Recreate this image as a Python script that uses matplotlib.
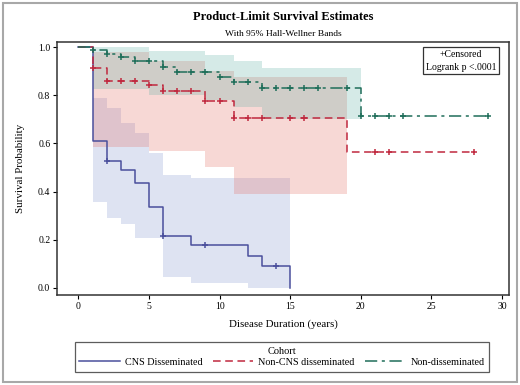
import matplotlib
matplotlib.use("Agg")
import matplotlib.pyplot as plt
from matplotlib.lines import Line2D
from matplotlib.patches import Rectangle
import numpy as np

plt.rcParams["font.family"] = ["Liberation Serif", "DejaVu Serif"]

# Kaplan-Meier step curves (time of step, survival after step)
cns_t = [0, 1, 2, 3, 4, 5, 6, 8, 12, 13, 15]
cns_s = [1.0, 0.61, 0.525, 0.49, 0.435, 0.335, 0.215, 0.178, 0.133, 0.089, 0.0]
cns_cens = [2, 6, 9, 14]

noncns_t = [0, 1, 2, 5, 6, 9, 11, 19]
noncns_s = [1.0, 0.913, 0.86, 0.842, 0.817, 0.775, 0.705, 0.563]
noncns_cens = [1, 2, 3, 4, 5, 6, 7, 8, 9, 10, 11, 12, 13, 15, 16, 21, 22, 28]

nondis_t = [0, 1, 2, 3, 4, 6, 7, 10, 11, 13, 20]
nondis_s = [1.0, 0.988, 0.971, 0.957, 0.944, 0.918, 0.898, 0.877, 0.856, 0.831, 0.714]
nondis_cens = [1, 2, 3, 4, 5, 6, 7, 8, 9, 10, 11, 12, 13, 14, 15, 16, 17, 19,
               20, 21, 22, 23, 29]

# Hall-Wellner bands (step start times, upper, lower)
cns_band_t = [1, 2, 3, 4, 5, 6, 8, 12, 15]
cns_band_hi = [0.79, 0.745, 0.685, 0.645, 0.56, 0.47, 0.455, 0.455, 0.455]
cns_band_lo = [0.357, 0.29, 0.265, 0.209, 0.209, 0.046, 0.022, 0.0, 0.0]

noncns_band_t = [1, 5, 9, 11, 19]
noncns_band_hi = [0.98, 0.94, 0.90, 0.877, 0.877]
noncns_band_lo = [0.585, 0.57, 0.50, 0.39, 0.39]

nondis_band_t = [1, 5, 9, 11, 13, 20]
nondis_band_hi = [1.0, 0.985, 0.965, 0.94, 0.913, 0.913]
nondis_band_lo = [0.825, 0.80, 0.78, 0.75, 0.70, 0.70]

labels = ["CNS Disseminated", "Non-CNS disseminated", "Non-disseminated"]
colors = ["#4a4f9c", "#c0283e", "#1f6e5a"]
band_colors = ["#7f93cf", "#e3675b", "#5bafa3"]
styles = ["-", (0, (5, 3)), (0, (8, 3, 2, 3))]


def step_value(times, surv, t):
    idx = np.searchsorted(times, t, side="right") - 1
    return surv[idx]


fig = plt.figure(figsize=(5.2, 3.85), dpi=100)
ax = fig.add_axes([0.110, 0.234, 0.869, 0.657])

bands = [
    (cns_band_t, cns_band_hi, cns_band_lo),
    (noncns_band_t, noncns_band_hi, noncns_band_lo),
    (nondis_band_t, nondis_band_hi, nondis_band_lo),
]
for (bt, hi, lo), c in zip(bands, band_colors):
    ax.fill_between(bt, lo, hi, step="post", color=c, alpha=0.25, lw=0, zorder=1)

curves = [
    (cns_t, cns_s, cns_cens),
    (noncns_t, noncns_s, noncns_cens),
    (nondis_t, nondis_s, nondis_cens),
]
for (t, s, cens), c, ls in zip(curves, colors, styles):
    t_end = max(t[-1], max(cens))
    tt = list(t) + [t_end]
    ss = list(s) + [s[-1]]
    ax.step(tt, ss, where="post", color=c, lw=1.1, linestyle=ls, zorder=3)
    cy = [step_value(t, s, x) for x in cens]
    ax.plot(cens, cy, "+", color=c, ms=5, mew=1.1, zorder=4)

ax.set_xlim(-1.5, 30.5)
ax.set_ylim(-0.029, 1.021)
ax.set_xticks(range(0, 31, 5))
ax.set_yticks(np.arange(0, 1.01, 0.2))
ax.set_yticklabels([f"{v:.1f}" for v in np.arange(0, 1.01, 0.2)])
ax.tick_params(labelsize=7, length=3, width=0.8, pad=2)
for sp in ax.spines.values():
    sp.set_linewidth(1.1)
    sp.set_color("#333333")
ax.set_xlabel("Disease Duration (years)", fontsize=7.8, labelpad=6)
ax.set_ylabel("Survival Probability", fontsize=7.8, labelpad=9)

ax.text(0.972, 0.968, "+Censored\nLogrank p <.0001", transform=ax.transAxes,
        ha="right", va="top", fontsize=7, linespacing=1.5, multialignment="center",
        bbox=dict(boxstyle="square,pad=0.3", fc="white", ec="#333333", lw=0.9),
        zorder=6)

fig.text(0.545, 0.955, "Product-Limit Survival Estimates", ha="center", va="center",
         fontsize=9, fontweight="bold")
fig.text(0.545, 0.912, "With 95% Hall-Wellner Bands", ha="center", va="center",
         fontsize=6.8)

handles = [Line2D([0], [0], color=c, lw=1.1, linestyle=ls)
           for c, ls in zip(colors, styles)]
leg = fig.legend(handles, labels, title="Cohort", ncol=3, loc="center",
                 bbox_to_anchor=(0.542, 0.073), fontsize=7.3, title_fontsize=7.5,
                 frameon=True, fancybox=False, edgecolor="#333333",
                 handlelength=4.0, columnspacing=1.0, handletextpad=0.5,
                 borderpad=0.45, labelspacing=0.2)
leg.get_frame().set_linewidth(0.9)

fig.patches.append(Rectangle((0.005, 0.008), 0.989, 0.984, transform=fig.transFigure,
                             fill=False, ec="#a8a8a8", lw=1.5))

fig.savefig("out.png", dpi=100)
